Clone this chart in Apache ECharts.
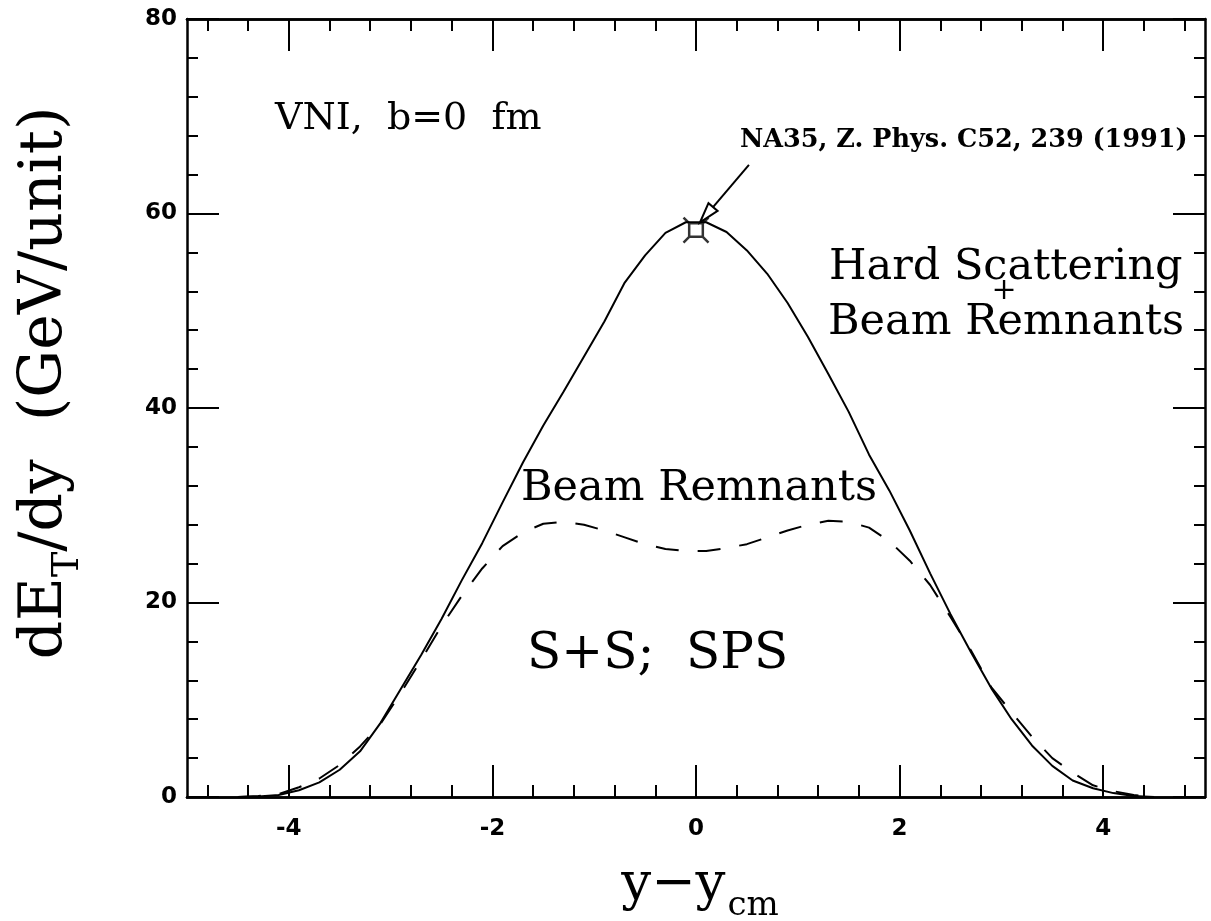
<!DOCTYPE html>
<html>
<head>
<meta charset="utf-8">
<script src="https://cdn.jsdelivr.net/npm/echarts@6/dist/echarts.min.js"></script>
<style>html,body{margin:0;padding:0;background:#fff;}#c{width:1211px;height:921px;}</style>
</head>
<body>
<div id="c"></div>
<script>
// ---- data ----
const rapidity = [-4.5,-4.3,-4.1,-3.9,-3.7,-3.5,-3.3,-3.1,-2.9,-2.7,-2.5,-2.3,-2.1,-1.9,-1.7,-1.5,-1.3,-1.1,-0.9,-0.7,-0.5,-0.3,-0.1,
                  0.1,0.3,0.5,0.7,0.9,1.1,1.3,1.5,1.7,1.9,2.1,2.3,2.5,2.7,2.9,3.1,3.3,3.5,3.7,3.9,4.1,4.3,4.5];
const hardPlusBeam = [0,0.05,0.2,0.7,1.5,2.8,4.7,7.6,11.1,14.6,18.3,22.3,26.1,30.3,34.4,38.2,41.7,45.3,48.9,52.9,55.7,58.0,59.1,
                      59.1,58.1,56.2,53.8,50.8,47.3,43.5,39.6,35.2,31.5,27.4,23.0,18.8,14.9,11.2,8.0,5.3,3.2,1.7,0.9,0.4,0.1,0];
const beamRemnants = [0,0.1,0.3,1.0,1.9,3.3,5.2,7.5,10.7,14.1,17.6,20.7,23.5,25.8,27.2,28.1,28.3,28.0,27.4,26.7,26.0,25.5,25.3,
                      25.3,25.6,26.0,26.7,27.4,28.0,28.4,28.3,27.7,26.3,24.3,21.8,18.5,15.1,11.3,8.7,6.2,4.0,2.5,1.2,0.6,0.2,0];
const na35X = [0];
const na35Y = [58.3];
const xMajorTicks = [-4,-2,0,2,4];
const xMinorTicks = [-4.8,-4.4,-3.6,-3.2,-2.8,-2.4,-1.6,-1.2,-0.8,-0.4,0.4,0.8,1.2,1.6,2.4,2.8,3.2,3.6,4.4,4.8];
const yMin = 0, yMax = 80, yStep = 20;
const xMin = -5, xMax = 5;

const txtVNI = 'VNI,  b=0  fm';
const txtNA35 = 'NA35, Z. Phys. C52, 239 (1991)';
const txtHard = 'Hard Scattering';
const txtPlus = '+';
const txtBeam = 'Beam Remnants';
const txtSys = 'S+S;  SPS';

// ---- chart ----
const chart = echarts.init(document.getElementById('c'), null, {renderer:'canvas'});
const serif = '"DejaVu Serif", serif';
const lblFont = {fontFamily:'"DejaVu Sans", sans-serif', fontWeight:'bold', fontSize:23, color:'#000'};
const lineCol = '#000';

function xAxisDef(pos, ticks, len, labels){
  return {
    type:'value', min:xMin, max:xMax, position:pos, gridIndex:0,
    axisLine:{show:true, onZero:false, lineStyle:{color:lineCol, width:2.5}},
    axisTick:{show:true, inside:true, length:len, customValues:ticks, lineStyle:{color:lineCol, width:2}},
    axisLabel:labels ? Object.assign({show:true, margin:21, customValues:ticks}, lblFont) : {show:false},
    splitLine:{show:false}
  };
}
function yAxisDef(pos, labels){
  return {
    type:'value', min:yMin, max:yMax, interval:yStep, position:pos, gridIndex:0,
    axisLine:{show:true, onZero:false, lineStyle:{color:lineCol, width:2.5}},
    axisTick:{show:true, inside:true, length:32, lineStyle:{color:lineCol, width:2}},
    minorTick:{show:true, splitNumber:5, length:11, lineStyle:{color:lineCol, width:2}},
    axisLabel:labels ? Object.assign({show:true, margin:10}, lblFont) : {show:false},
    splitLine:{show:false}, minorSplitLine:{show:false}
  };
}

const markerPath = 'path://M-6,-6L6,-6L6,6L-6,6Z M-6,-6L-11,-11 M6,-6L11,-11 M6,6L11,11 M-6,6L-11,11';

const option = {
  animation:false,
  backgroundColor:'#fff',
  grid:{left:187, right:6, top:19, bottom:124, show:false},
  xAxis:[
    xAxisDef('bottom', xMajorTicks, 32, true),
    xAxisDef('bottom', xMinorTicks, 12, false),
    xAxisDef('top', xMajorTicks, 32, false),
    xAxisDef('top', xMinorTicks, 12, false)
  ],
  yAxis:[ yAxisDef('left', true), yAxisDef('right', false) ],
  series:[
    {type:'line', name:'Hard Scattering + Beam Remnants', xAxisIndex:0, yAxisIndex:0,
     data:rapidity.map((x,i)=>[x, hardPlusBeam[i]]), showSymbol:false, symbol:'none',
     lineStyle:{color:'#000', width:2}, z:3},
    {type:'line', name:'Beam Remnants', xAxisIndex:0, yAxisIndex:0,
     data:rapidity.map((x,i)=>[x, beamRemnants[i]]), showSymbol:false, symbol:'none',
     lineStyle:{color:'#000', width:2, type:[23,19]}, z:3},
    {type:'scatter', name:'NA35', xAxisIndex:0, yAxisIndex:0,
     data:na35X.map((x,i)=>[x, na35Y[i]]), symbol:markerPath, symbolSize:25,
     itemStyle:{color:'#fff', borderColor:'#000', borderWidth:2.5}, z:5}
  ]
};
chart.setOption(option);

// annotations
function textEl(t, x, y, font, align){
  return {type:'text', silent:true, z:10,
    style:{text:t, x:x, y:y, font:font, fill:'#000', textAlign:align||'left', textVerticalAlign:'middle', align:align||'left', verticalAlign:'middle'}};
}
const tip = chart.convertToPixel({gridIndex:0}, [0.04, 59.1]);
const tail = chart.convertToPixel({gridIndex:0}, [0.52, 65.0]);
const dx = tip[0]-tail[0], dy = tip[1]-tail[1], dl = Math.hypot(dx,dy);
const ux = dx/dl, uy = dy/dl, nx = -uy, ny = ux;
const headL = 20, headW = 6;
const base = [tip[0]-ux*headL, tip[1]-uy*headL];

const graphics = [
  textEl(txtVNI, 275, 119, '38px ' + serif),
  textEl(txtNA35, 740, 140, 'bold 25.5px ' + serif),
  textEl(txtHard, 829, 268, '43px ' + serif),
  textEl(txtPlus, 1004, 291, '30px ' + serif, 'center'),
  textEl(txtBeam, 828, 323, '43px ' + serif),
  textEl(txtBeam, 521, 489, '43px ' + serif),
  textEl(txtSys, 527, 655, '50px ' + serif),
  {type:'line', silent:true, z:10, shape:{x1:tail[0], y1:tail[1], x2:base[0], y2:base[1]}, style:{stroke:'#000', lineWidth:2}},
  {type:'polygon', silent:true, z:10, shape:{points:[tip, [base[0]+nx*headW, base[1]+ny*headW], [base[0]-nx*headW, base[1]-ny*headW]]},
   style:{fill:'#fff', stroke:'#000', lineWidth:2}},
  // axis titles
  {type:'text', silent:true, z:10, x:700, y:885,
   style:{text:'{a|y\u2212y}{s|cm}', x:0, y:0, align:'center', verticalAlign:'middle', textAlign:'center', textVerticalAlign:'middle',
     rich:{a:{font:'53px ' + serif, fill:'#000', verticalAlign:'bottom'}, s:{font:'34px ' + serif, fill:'#000', verticalAlign:'bottom', padding:[0,0,-12,2]}}}},
  {type:'text', silent:true, z:10, x:45, y:383, rotation:Math.PI/2,
   style:{text:'{a|dE}{s|T}{a|/dy  (GeV/unit)}', x:0, y:0, align:'center', verticalAlign:'middle', textAlign:'center', textVerticalAlign:'middle',
     rich:{a:{font:'60px ' + serif, fill:'#000', verticalAlign:'bottom'}, s:{font:'38px ' + serif, fill:'#000', verticalAlign:'bottom', padding:[0,0,-12,0]}}}}
];
chart.setOption({graphic:graphics});
</script>
</body>
</html>
